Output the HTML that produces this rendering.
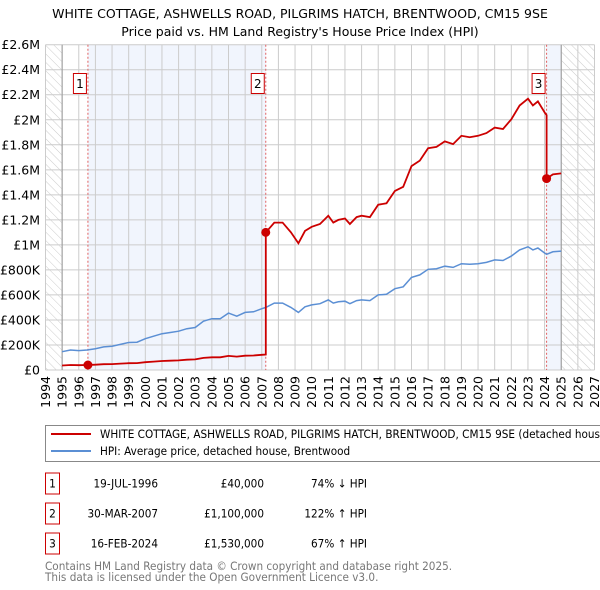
<!DOCTYPE html>
<html><head><meta charset="utf-8"><style>
body{margin:0;background:#fff;font-family:"DejaVu Sans","Liberation Sans",sans-serif;}
svg{display:block}
</style></head><body>
<svg id="c" width="600" height="590" xmlns="http://www.w3.org/2000/svg" font-family="DejaVu Sans, Liberation Sans, sans-serif">
<defs><pattern id="hatch" width="6" height="6" patternUnits="userSpaceOnUse" patternTransform="rotate(-45)"><line x1="0" y1="0" x2="0" y2="6" stroke="#ccc" stroke-width="1"/></pattern></defs>
<text x="300" y="18" text-anchor="middle" font-size="12.5">WHITE COTTAGE, ASHWELLS ROAD, PILGRIMS HATCH, BRENTWOOD, CM15 9SE</text>
<text x="300" y="36" text-anchor="middle" font-size="12.5">Price paid vs. HM Land Registry's House Price Index (HPI)</text>
<g id="plot"></g>
<g>
<rect x="45.5" y="425.5" width="570" height="36" fill="#fff" stroke="#888"/>
<line x1="51" y1="434" x2="91" y2="434" stroke="#cc0000" stroke-width="2"/>
<text class="cond" x="100" y="438" font-size="11.5">WHITE COTTAGE, ASHWELLS ROAD, PILGRIMS HATCH, BRENTWOOD, CM15 9SE (detached house)</text>
<line x1="51" y1="451" x2="91" y2="451" stroke="#5b8fd4" stroke-width="2"/>
<text class="cond" x="100" y="455" font-size="11.5">HPI: Average price, detached house, Brentwood</text>
</g>
<g id="table" font-size="11.5"></g>
<text class="cond" x="45" y="570" font-size="11.5" fill="#777">Contains HM Land Registry data © Crown copyright and database right 2025.</text>
<text class="cond" x="45" y="581" font-size="11.5" fill="#777">This data is licensed under the Open Government Licence v3.0.</text>
</svg>
<script>
const hpiYears=[1995,1995.5,1996,1996.5,1997,1997.5,1998,1998.5,1999,1999.5,2000,2000.5,2001,2001.5,2002,2002.5,2003,2003.5,2004,2004.5,2005,2005.5,2006,2006.5,2007,2007.25,2007.75,2008.25,2008.75,2009.2,2009.6,2010,2010.5,2011,2011.3,2011.6,2012,2012.3,2012.7,2013,2013.5,2014,2014.5,2015,2015.5,2016,2016.5,2017,2017.5,2018,2018.5,2019,2019.5,2020,2020.5,2021,2021.5,2022,2022.5,2023,2023.3,2023.6,2024,2024.12,2024.5,2025];
const hpiValues=[146000,160000,155000,160000,170000,185000,190000,205000,220000,222000,250000,270000,290000,300000,310000,330000,340000,390000,410000,410000,455000,430000,460000,465000,490000,500000,535000,535000,500000,460000,505000,520000,530000,560000,535000,545000,550000,530000,555000,560000,555000,600000,605000,650000,665000,740000,760000,805000,810000,830000,820000,850000,845000,850000,860000,880000,875000,910000,960000,985000,960000,975000,935000,925000,945000,950000];
const saleYears=[1996.55,2007.24,2024.12];
const saleValues=[40000,1100000,1530000];
const saleLabels=["1","2","3"];
const saleDates=["19-JUL-1996","30-MAR-2007","16-FEB-2024"];
const salePrices=["£40,000","£1,100,000","£1,530,000"];
const saleHpi=["74% ↓ HPI","122% ↑ HPI","67% ↑ HPI"];
const yTicks=[0,200000,400000,600000,800000,1000000,1200000,1400000,1600000,1800000,2000000,2200000,2400000,2600000];
const yTickLabels=["£0","£200K","£400K","£600K","£800K","£1M","£1.2M","£1.4M","£1.6M","£1.8M","£2M","£2.2M","£2.4M","£2.6M"];
const xMin=1994,xMax=2027,dataEnd=2025;
const NS="http://www.w3.org/2000/svg";
const L=45.5,R=594.5,T=44.7,B=370;
const X=y=>L+(y-xMin)/(xMax-xMin)*(R-L);
const Y=v=>B-v/2600000*(B-T);
const plot=document.getElementById('plot');
function mk(tag,attrs,parent){const e=document.createElementNS(NS,tag);for(const k in attrs)e.setAttribute(k,attrs[k]);(parent||plot).appendChild(e);return e;}
function hpiAt(t){for(let i=0;i<hpiYears.length-1;i++){if(t<=hpiYears[i+1]){const f=(t-hpiYears[i])/(hpiYears[i+1]-hpiYears[i]);return hpiValues[i]+f*(hpiValues[i+1]-hpiValues[i]);}}return hpiValues[hpiValues.length-1];}
let e=mk('rect',{x:L,y:T,width:X(hpiYears[0])-L,height:B-T,fill:'url(#hatch)'});


e=mk('rect',{x:X(dataEnd),y:T,width:R-X(dataEnd),height:B-T,fill:'url(#hatch)'});


e=mk('rect',{x:X(saleYears[0]),y:T,width:X(saleYears[1])-X(saleYears[0]),height:B-T,fill:'#eef3fc',opacity:0.8});


e=mk('rect',{x:X(saleYears[2]),y:T,width:X(dataEnd)-X(saleYears[2]),height:B-T,fill:'#eef3fc',opacity:0.8});


for(let i=0;i<yTicks.length;i++){
 e=mk('line',{x1:L,x2:R,y1:Y(yTicks[i]),y2:Y(yTicks[i]),stroke:'#ccc'});
 
 
 e=mk('text',{x:40,y:Y(yTicks[i])+4.5,'text-anchor':'end','font-size':12.5});
 e.textContent=yTickLabels[i];
 
 
}
for(let yr=xMin;yr<=xMax;yr++){
 e=mk('line',{x1:X(yr),x2:X(yr),y1:T,y2:B,stroke:'#ccc'});
 
 
 e=mk('text',{transform:`translate(${X(yr)+4.5},${B+6}) rotate(-90)`,'text-anchor':'end','font-size':12.5});
 e.textContent=yr;
 
 
}
e=mk('line',{x1:X(hpiYears[0]),x2:X(hpiYears[0]),y1:T,y2:B,stroke:'#999'});


e=mk('line',{x1:X(dataEnd),x2:X(dataEnd),y1:T,y2:B,stroke:'#999'});


for(let i=0;i<saleYears.length;i++){
 e=mk('line',{x1:X(saleYears[i]),x2:X(saleYears[i]),y1:T,y2:B,stroke:'#e06060','stroke-dasharray':'2,2'});
 
 
}
const hp=hpiYears.map((y,i)=>`${X(y).toFixed(1)},${Y(hpiValues[i]).toFixed(1)}`).join(' ');
e=mk('polyline',{points:hp,fill:'none',stroke:'#5b8fd4','stroke-width':1.5});


const pts=[];
const tset=[...hpiYears,...saleYears].sort((a,b)=>a-b);
function redAt(t,seg){return saleValues[seg]*hpiAt(t)/hpiAt(saleYears[seg]);}
for(const t of tset){
 let seg=0;for(let k=0;k<saleYears.length;k++)if(t>=saleYears[k])seg=k;
 if(saleYears.includes(t)&&t>saleYears[0]){pts.push([t,redAt(t,seg-1)]);}
 pts.push([t,redAt(t,seg)]);
}
e=mk('polyline',{points:pts.map(p=>`${X(p[0]).toFixed(1)},${Y(p[1]).toFixed(1)}`).join(' '),fill:'none',stroke:'#cc0000','stroke-width':1.8});


for(let i=0;i<saleYears.length;i++){
 e=mk('circle',{cx:X(saleYears[i]),cy:Y(saleValues[i]),r:4.5,fill:'#cc0000'});
 
 
 const bx=X(saleYears[i])-14.5;
 e=mk('rect',{x:bx,y:73.5,width:13,height:20,fill:'#fff',stroke:'#cc0000'});
 
 
 e=mk('text',{x:bx+6.5,y:88,'text-anchor':'middle','font-size':12});
 e.textContent=saleLabels[i];
 
 
}
const tb=document.getElementById('table');
for(let i=0;i<saleYears.length;i++){
 const cy=483+i*30;
 e=mk('rect',{x:45.5,y:cy-10,width:14,height:21,fill:'#fff',stroke:'#cc0000'},tb);
 
 
 e=mk('text',{x:52.5,y:cy+4.5,'text-anchor':'middle',class:'cond'},tb);e.textContent=saleLabels[i];
 
 
 e=mk('text',{x:158,y:cy+4.5,'text-anchor':'end',class:'cond'},tb);e.textContent=saleDates[i];
 
 
 e=mk('text',{x:264,y:cy+4.5,'text-anchor':'end',class:'cond'},tb);e.textContent=salePrices[i];
 
 
 e=mk('text',{x:367,y:cy+4.5,'text-anchor':'end',class:'cond'},tb);e.textContent=saleHpi[i];
 
 
}
document.querySelectorAll('text.cond').forEach(t=>{
 const w=t.getComputedTextLength();
 t.setAttribute('textLength',(w*0.91).toFixed(1));
 t.setAttribute('lengthAdjust','spacingAndGlyphs');
});
</script>
</body></html>
